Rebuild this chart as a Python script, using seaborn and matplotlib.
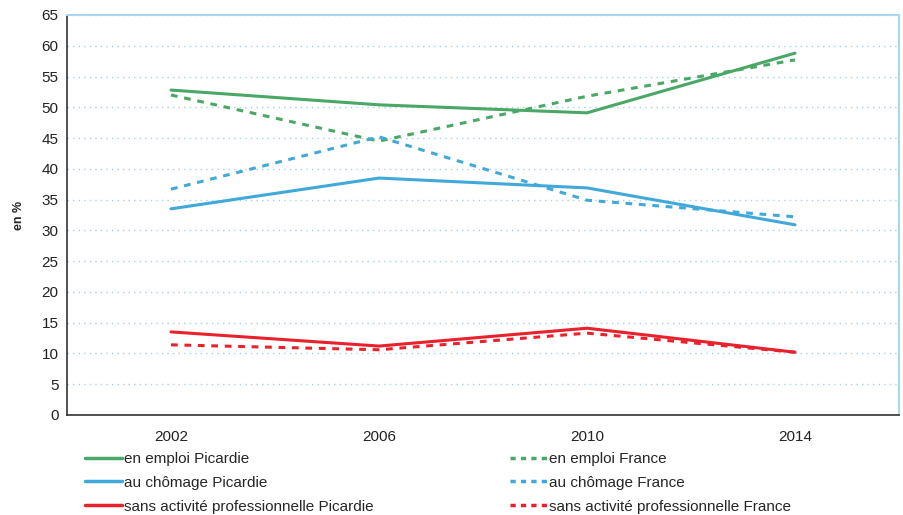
import matplotlib
matplotlib.use("Agg")
import matplotlib.pyplot as plt
import seaborn as sns
import pandas as pd
from matplotlib.lines import Line2D
from matplotlib.ticker import FixedLocator, MultipleLocator

years = ["2002", "2006", "2010", "2014"]
emploi_picardie = [52.8, 50.4, 49.1, 58.8]
emploi_france = [52.0, 44.5, 51.8, 57.7]
chomage_picardie = [33.5, 38.5, 36.9, 30.9]
chomage_france = [36.7, 45.2, 34.9, 32.2]
sans_picardie = [13.5, 11.2, 14.1, 10.2]
sans_france = [11.4, 10.6, 13.3, 10.2]

series = [
    ("en emploi Picardie", emploi_picardie, "#4aa766", "-"),
    ("au chômage Picardie", chomage_picardie, "#41a8da", "-"),
    ("sans activité professionnelle Picardie", sans_picardie, "#e8212c", "-"),
    ("en emploi France", emploi_france, "#4aa766", "--"),
    ("au chômage France", chomage_france, "#41a8da", "--"),
    ("sans activité professionnelle France", sans_france, "#e8212c", "--"),
]

sns.set_theme(style="white")
plt.rcParams['font.family'] = ['Liberation Sans', 'DejaVu Sans']

fig = plt.figure(figsize=(9.04, 5.15), dpi=100)
ax = fig.add_axes([0.0741, 0.1942, 0.9204, 0.7767])

xs = list(range(len(years)))
for name, vals, color, ls in series:
    df = pd.DataFrame({"x": xs, "y": vals})
    sns.lineplot(data=df, x="x", y="y", ax=ax, color=color, linewidth=2.2,
                 linestyle=ls, legend=False)
for line in ax.lines:
    if line.get_linestyle() == "--":
        line.set_dashes((2.2, 2.2))

ax.set_xlim(-0.5, len(years) - 0.5)
ax.set_ylim(0, 65)
ax.yaxis.set_major_locator(MultipleLocator(5))
ax.set_xticks(xs)
ax.set_xticklabels(years, fontsize=11)
ax.xaxis.set_minor_locator(FixedLocator([i - 0.5 for i in range(len(years) + 1)]))
ax.tick_params(axis="x", which="major", length=0, pad=11, colors="#222222")
ax.tick_params(axis="x", which="minor", length=6, width=1, color="#333333", direction="inout")
ax.tick_params(axis="y", which="major", length=3, width=1, color="#333333", labelsize=11, pad=3, labelcolor="#222222")
ax.grid(axis="y", color="#9fd3ef", linestyle=(0, (1, 3)), linewidth=1)
ax.set_axisbelow(True)

for s in ["left", "bottom"]:
    ax.spines[s].set_color("#333333")
    ax.spines[s].set_linewidth(1.2)
for s in ["top", "right"]:
    ax.spines[s].set_color("#a8d8f0")
    ax.spines[s].set_linewidth(1.5)

ax.set_xlabel("")
ax.set_ylabel("en %", fontsize=9, fontweight="bold", labelpad=12)

handles = []
for name, vals, color, ls in series:
    h = Line2D([0], [0], color=color, linewidth=2.5, linestyle=ls)
    if ls == "--":
        h.set_dashes((1.5, 1.5))
    handles.append(h)
labels = [s[0] for s in series]

leg_kw = dict(loc="upper left", frameon=False, fontsize=11, handlelength=2.4,
              handletextpad=0.15, labelspacing=0.64, borderaxespad=0, borderpad=0)
leg1 = fig.legend(handles[:3], labels[:3], bbox_to_anchor=(85 / 904, 1 - 452 / 515), **leg_kw)
leg2 = fig.legend(handles[3:], labels[3:], bbox_to_anchor=(510 / 904, 1 - 452 / 515), **leg_kw)

fig.savefig("out.png", dpi=100)
